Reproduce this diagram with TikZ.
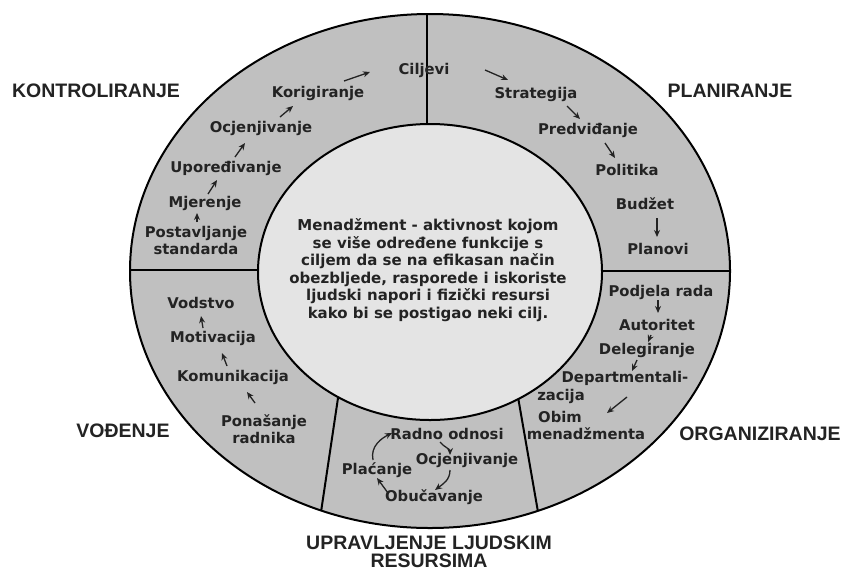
\documentclass[tikz,border=0pt]{standalone}
\usepackage{fontspec}
\setmainfont{DejaVu Sans}
\newfontfamily\labfont{Liberation Sans}
\usetikzlibrary{arrows.meta,calc}
\definecolor{ringgray}{RGB}{192,192,192}
\definecolor{innergray}{RGB}{228,228,228}
\definecolor{ink}{RGB}{35,35,35}
\begin{document}
\begin{tikzpicture}[x=1pt,y=-1pt,
  item/.style={font=\bfseries\fontsize{14.8}{17}\selectfont, text=ink, inner sep=0pt, align=center},
  ctext/.style={font=\bfseries\fontsize{15}{17.5}\selectfont, text=ink, inner sep=0pt, align=center},
  lab/.style={font=\labfont\bfseries\fontsize{19.5}{18.5}\selectfont, text=ink, inner sep=0pt, align=center},
  arr/.style={-{Stealth[length=7pt,width=6pt]}, line width=1.3pt, draw=ink},
  ringline/.style={line width=2pt, draw=black}]

\useasboundingbox (0,0) rectangle (842,574);
\fill[white] (0,0) rectangle (842,574);

% outer ring
\filldraw[fill=ringgray, ringline] (430,271) ellipse [x radius=300, y radius=257];
\begin{scope}
  \clip (430,271) ellipse [x radius=300, y radius=257];
  \draw[ringline] (427,0) -- (427,200);
  \draw[ringline] (100,270) -- (300,270);
  \draw[ringline] (560,271) -- (760,271);
  \draw[ringline] (338,398) -- ($(338,398)!1.1!(321,512)$);
  \draw[ringline] (518,397) -- ($(518,397)!1.1!(538,512)$);
\end{scope}
% inner circle
\filldraw[fill=innergray, ringline] (430,272) ellipse [x radius=172, y radius=148];

% centre text
\node[ctext] (mid) at (428,270) {Menadžment - aktivnost kojom\\se više određene funkcije s\\ciljem da se na efikasan način\\obezbljede, rasporede i iskoriste\\ljudski napori i fizički resursi\\kako bi se postigao neki cilj.};

% outer labels
\node[lab] (kon) at (96,91) {KONTROLIRANJE};
\node[lab] (plan) at (730,91) {PLANIRANJE};
\node[lab] (vodj) at (123,431) {VOĐENJE};
\node[lab] (org) at (760,434) {ORGANIZIRANJE};
\node[lab] (ulr) at (429,552) {UPRAVLJENJE LJUDSKIM\\RESURSIMA};

% kontroliranje
\node[item] (cil) at (424,70) {Ciljevi};
\node[item] (kor) at (318,93) {Korigiranje};
\node[item] (ocj) at (261,128) {Ocjenjivanje};
\node[item] (upo) at (226,168) {Upoređivanje};
\node[item] (mje) at (205,203) {Mjerenje};
\node[item] (pos) at (196,240) {Postavljanje\\standarda};

\draw[arr] ([shift={(26,-12)}]kor.center) -- ([shift={(-54,2)}]cil.center);
\draw[arr] ([shift={(19,-11)}]ocj.center) -- ([shift={(-25,13)}]kor.center);
\draw[arr] ([shift={(9,-11)}]upo.center) -- ([shift={(-16,15)}]ocj.center);
\draw[arr] ([shift={(3,-9)}]mje.center) -- ([shift={(-9,12)}]upo.center);
\draw[arr] ([shift={(1,-18)}]pos.center) -- ([shift={(-8,10)}]mje.center);

% planiranje
\node[item] (str) at (536,94) {Strategija};
\node[item] (pre) at (588,130) {Predviđanje};
\node[item] (pol) at (627,170) {Politika};
\node[item] (bud) at (645,204) {Budžet};
\node[item] (pla) at (658,249) {Planovi};

\draw[arr] ([shift={(61,0)}]cil.center) -- ([shift={(-28,-14)}]str.center);
\draw[arr] ([shift={(31,12)}]str.center) -- ([shift={(-8,-11)}]pre.center);
\draw[arr] ([shift={(17,13)}]pre.center) -- ([shift={(-12,-12)}]pol.center);
\draw[arr] ([shift={(12,14)}]bud.center) -- ([shift={(-1,-12)}]pla.center);

% vodjenje
\node[item] (vod) at (201,303) {Vodstvo};
\node[item] (mot) at (213,338) {Motivacija};
\node[item] (kom) at (233,377) {Komunikacija};
\node[item] (pon) at (264,429) {Ponašanje\\radnika};

\draw[arr] ([shift={(-9,-26)}]pon.center) -- ([shift={(14,15)}]kom.center);
\draw[arr] ([shift={(-6,-11)}]kom.center) -- ([shift={(9,15)}]mot.center);
\draw[arr] ([shift={(-10,-10)}]mot.center) -- ([shift={(0,13)}]vod.center);

% organiziranje
\node[item] (pod) at (661,292) {Podjela rada};
\node[item] (aut) at (657,325) {Autoritet};
\node[item] (del) at (647,350) {Delegiranje};
\node[item] (dep) at (625,378) {Departmentali-};
\node[item] (zac) at (561,396) {zacija};
\node[item] (obim) at (560,417) {Obim};
\node[item] (men) at (586,434) {menadžmenta};

\draw[arr] ([shift={(-3,8)}]pod.center) -- ([shift={(1,-12)}]aut.center);
\draw[arr] ([shift={(-6,10)}]aut.center) -- ([shift={(1,-8)}]del.center);
\draw[arr] ([shift={(-10,10)}]del.center) -- ([shift={(7,-7)}]dep.center);
\draw[arr] ([shift={(66,1)}]zac.center) -- ([shift={(21,-21)}]men.center);

% upravljenje ljudskim resursima
\node[item] (rad) at (447,434) {Radno odnosi};
\node[item] (ocb) at (467,460) {Ocjenjivanje};
\node[item] (obu) at (434,497) {Obučavanje};
\node[item] (plc) at (377,470) {Plaćanje};

\draw[arr] ([shift={(-4,-10)}]plc.center) .. controls +(-3,-14) and +(-10,5) .. ([shift={(-55,-1)}]rad.center);
\draw[arr] ([shift={(-7,8)}]rad.center) .. controls +(4,5) and +(0,-6) .. ([shift={(-17,-5)}]ocb.center);
\draw[arr] ([shift={(-17,10)}]ocb.center) .. controls +(0,10) and +(8,-6) .. ([shift={(1,-7)}]obu.center);
\draw[arr] ([shift={(-46,-4)}]obu.center) -- ([shift={(0,8)}]plc.center);
\end{tikzpicture}
\end{document}
